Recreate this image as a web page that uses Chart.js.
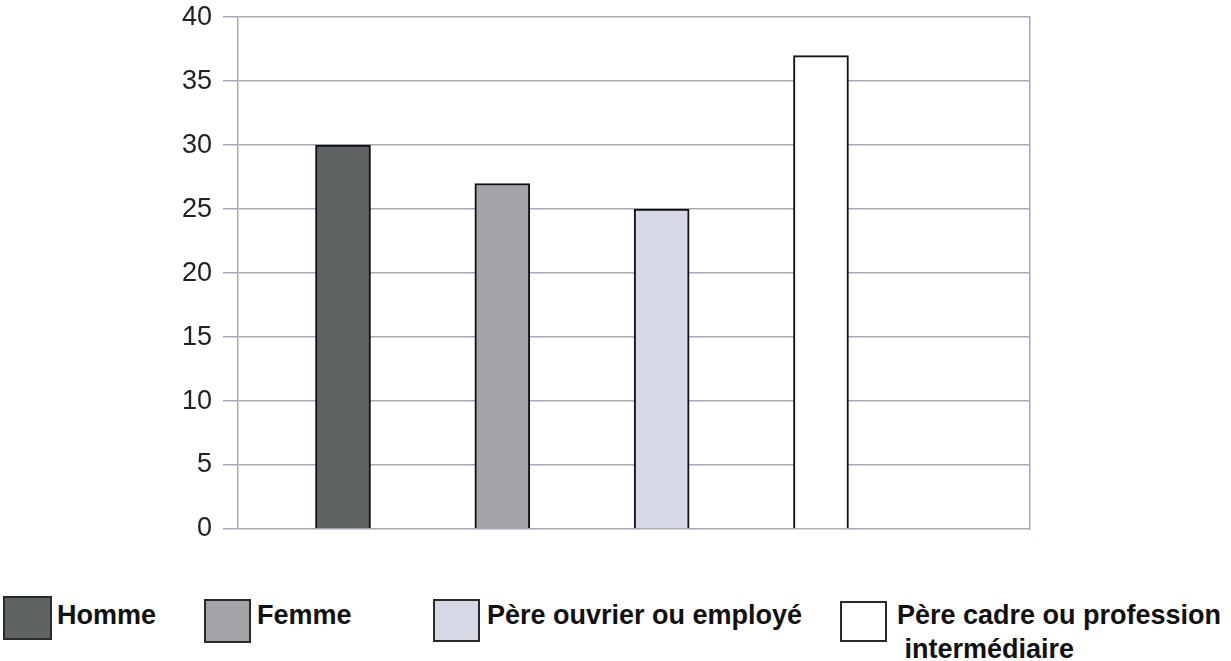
<!DOCTYPE html>
<html>
<head>
<meta charset="utf-8">
<script src="https://cdn.jsdelivr.net/npm/chart.js@4/dist/chart.umd.min.js"></script>
<style>
  body { margin: 0; background: #fff; }
  #wrap { position: relative; width: 1231px; height: 661px; overflow: hidden; }
  #chart { position: absolute; left: 0; top: -10px; }
  .leg { position: absolute; font-family: "Liberation Sans", Arial, sans-serif; font-weight: bold; font-size: 27px; color: #111; line-height: 34px; }
  .box { position: absolute; box-sizing: border-box; border: 2px solid #2a2a2a; }
</style>
</head>
<body>
<div id="wrap">
  <canvas id="chart" width="1231" height="570"></canvas>
  <div id="legend"></div>
</div>
<script>
// Données
const categories = ['Homme', 'Femme', 'Père ouvrier ou employé', 'Père cadre ou profession intermédiaire'];
const values = [30, 27, 25, 37];
const yTicks = [0, 5, 10, 15, 20, 25, 30, 35, 40];

// Couleurs des barres
const barColors = ['#5e6461', '#a3a3a8', '#d5d9e5', '#ffffff'];

// Légende placée à la main sous le graphique
const legendSpots = [
    { box: [3, 596, 49, 44], text: [57, 598], lines: ['Homme'] },
    { box: [204, 599, 47, 44], text: [257, 598], lines: ['Femme'] },
    { box: [433, 599, 47, 43], text: [487, 598], lines: ['Père ouvrier ou employé'] },
    { box: [840, 601, 47, 41], text: [897, 598], lines: ['Père cadre ou profession', '&nbsp;intermédiaire'] }
];

const legend = document.getElementById('legend');
legendSpots.forEach((spot, i) => {
    const b = document.createElement('div');
    b.className = 'box';
    b.style.left = spot.box[0] + 'px';
    b.style.top = spot.box[1] + 'px';
    b.style.width = spot.box[2] + 'px';
    b.style.height = spot.box[3] + 'px';
    b.style.background = barColors[i];
    legend.appendChild(b);

    const t = document.createElement('div');
    t.className = 'leg';
    t.style.left = spot.text[0] + 'px';
    t.style.top = spot.text[1] + 'px';
    t.innerHTML = spot.lines.join('<br>');
    legend.appendChild(t);
});

const gridColor = '#a9acb6';

const ctx = document.getElementById('chart').getContext('2d');
new Chart(ctx, {
    type: 'bar',
    data: {
        labels: categories,
        datasets: [{
            label: 'Valeur',
            data: values.map((v, i) => ({ x: i + 1, y: v })),
            backgroundColor: barColors,
            borderColor: '#111',
            borderWidth: 2,
            barThickness: 55
        }]
    },
    options: {
        responsive: false,
        animation: false,
        layout: { padding: { top: 7, bottom: 31, left: 0, right: 201 } },
        plugins: {
            legend: { display: false },
            tooltip: { enabled: false }
        },
        scales: {
            x: {
                type: 'linear',
                min: 0.341,
                max: 5.312,
                offset: false,
                display: false
            },
            y: {
                min: 0,
                max: 40,
                afterBuildTicks: (s) => { s.ticks = yTicks.map(v => ({ value: v })); },
                afterFit: (s) => { s.width = 238; },
                ticks: {
                    padding: 11,
                    color: '#222',
                    font: { family: 'Liberation Sans', size: 27 }
                },
                grid: { color: gridColor, lineWidth: 1.5, tickLength: 15 },
                border: { color: gridColor, width: 1.5 }
            },
            y2: {
                position: 'right',
                min: 0,
                max: 40,
                afterFit: (s) => { s.width = 0; },
                ticks: { display: false },
                grid: { drawOnChartArea: false, drawTicks: false },
                border: { color: gridColor, width: 1.5 }
            }
        }
    }
});
</script>
</body>
</html>
